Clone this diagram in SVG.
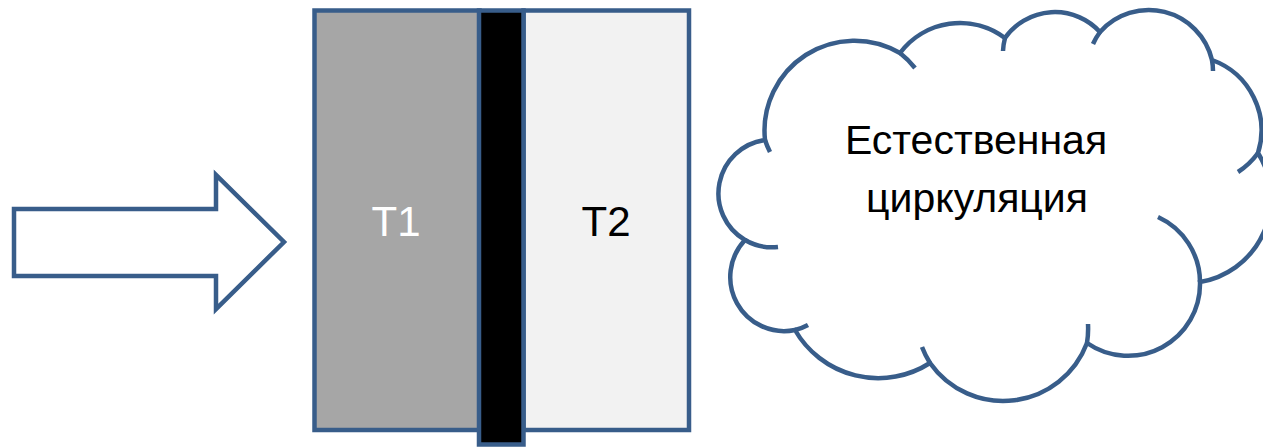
<svg xmlns="http://www.w3.org/2000/svg" width="1263" height="447" viewBox="0 0 1263 447">
  <style>
    .outline { stroke: #385d8a; stroke-width: 4.5; stroke-linejoin: miter; }
    .tick { fill: none; stroke: #385d8a; stroke-width: 4.5; }
    .label { font-family: "Liberation Sans", Arial, sans-serif; font-size: 42px; text-anchor: middle; }
    .cloud-text { font-family: "Liberation Sans", Arial, sans-serif; font-size: 41px; text-anchor: middle; fill: #000; }
  </style>
  <rect width="1263" height="447" fill="#ffffff"/>

  <!-- incoming heat flow arrow -->
  <g id="connectors">
    <polygon id="heat-arrow" class="outline" fill="#ffffff"
      points="14,209 216,209 216,175 284,242 216,309 216,276 14,276"/>
  </g>

  <!-- hot side -->
  <g id="t1">
    <rect class="outline" x="314.5" y="10.5" width="165" height="419.5" fill="#a6a6a6"/>
    <text class="label" x="396" y="236" fill="#ffffff">T1</text>
  </g>

  <!-- cold side -->
  <g id="t2">
    <rect class="outline" x="523.5" y="10.5" width="165.5" height="419.5" fill="#f2f2f2"/>
    <text class="label" x="606" y="236" fill="#000000">T2</text>
  </g>

  <!-- separating wall -->
  <g id="wall">
    <rect class="outline" x="479" y="10.5" width="44.5" height="434" fill="#000000"/>
  </g>

  <!-- natural circulation cloud -->
  <g id="cloud">
    <path class="outline" fill="#ffffff" d="M765,140
      A90,90 0 0 1 900,53
      A75,75 0 0 1 1005,38
      A61,61 0 0 1 1100,32
      A65,65 0 0 1 1212,60
      A75,75 0 0 1 1258,153
      A85,85 0 0 1 1200,282
      A72,72 0 0 1 1087,343
      A89.5,89.5 0 0 1 930,363
      A96,96 0 0 1 795,330
      A54,54 0 0 1 745,240
      A54,54 0 0 1 765,140 Z"/>
    <path class="tick" d="M770,152 A90,90 0 0 1 765,140
      M900,53 A90,90 0 0 1 915,68
      M1003,51 A61,61 0 0 1 1005,38
      M1093,44 A65,65 0 0 1 1100,32
      M1212,60 A65,65 0 0 1 1213,71
      M1258,153 A75,75 0 0 1 1238,172
      M1158,217 A72,72 0 0 1 1200,282
      M1088,324 A89.5,89.5 0 0 1 1087,343
      M930,363 A89.5,89.5 0 0 1 922,347
      M808,325 A54,54 0 0 1 795,330
      M778,247 A54,54 0 0 1 745,240"/>
    <text class="cloud-text" x="976" y="154">Естественная</text>
    <text class="cloud-text" x="977" y="212">циркуляция</text>
  </g>
</svg>
